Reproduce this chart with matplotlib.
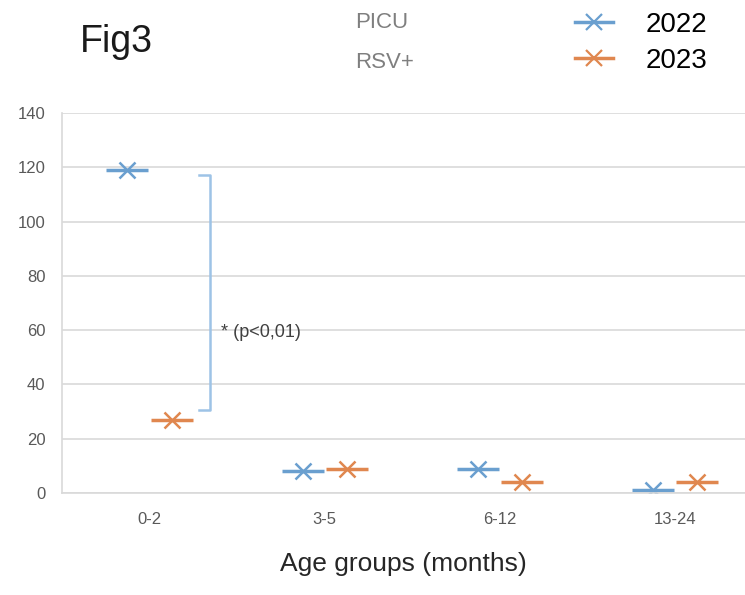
import matplotlib.pyplot as plt
from matplotlib.lines import Line2D
import numpy as np

plt.rcParams['font.family'] = ['Liberation Sans Narrow', 'Liberation Sans', 'DejaVu Sans']

# Dados
grupos = ['0-2', '3-5', '6-12', '13-24']
casos_2022 = [119, 8, 9, 1]
casos_2023 = [27, 9, 4, 4]
anos = ['2022', '2023']
cores = ['#6a9fcf', '#e0874f']

fig = plt.figure(figsize=(7.45, 5.95), dpi=100)
ax = fig.add_axes([62 / 745, 102 / 595, 683 / 745, 380 / 595])

x = np.arange(len(grupos))
desloc = 0.126
for serie, cor, d in zip([casos_2022, casos_2023], cores, [-desloc, desloc]):
    # traço horizontal + X (estilo Excel)
    ax.plot(x + d, serie, ls='none', marker='_', ms=30, mew=2.5, color=cor)
    ax.plot(x + d, serie, ls='none', marker='x', ms=11, mew=1.8, color=cor)

# Colchete de significância
bx0, bx1 = 0.283, 0.346
y_top, y_bot = 117, 30.5
ax.plot([bx0, bx1, bx1, bx0], [y_top, y_top, y_bot, y_bot], color='#9dc3e6', lw=1.8)
ax.text(0.41, 59, '* (p<0,01)', fontsize=13, color='#404040', va='center')

ax.set_xlim(-0.5, 3.4)
ax.set_ylim(0, 140)
ax.set_yticks(range(0, 141, 20))
ax.set_xticks(x)
ax.set_xticklabels(grupos)
ax.grid(axis='y', color='#d9d9d9', lw=1.2)
ax.set_axisbelow(True)
for s in ['top', 'right']:
    ax.spines[s].set_visible(False)
for s in ['left', 'bottom']:
    ax.spines[s].set_color('#d9d9d9')
    ax.spines[s].set_linewidth(1.2)
ax.tick_params(length=0, labelsize=12, colors='#595959', pad=14)
ax.tick_params(axis='y', pad=12)
ax.set_xlabel('Age groups (months)', fontsize=19, color='#262626', labelpad=18)

fig.text(80 / 745, 1 - 42 / 595, 'Fig3', fontsize=27, color='#1a1a1a', va='center')
fig.text(355 / 745, 1 - 22 / 595, 'PICU', fontsize=16, color='#7f7f7f', va='center')
fig.text(355 / 745, 1 - 62 / 595, 'RSV+', fontsize=16, color='#7f7f7f', va='center')

handles = [Line2D([0], [0], color=c, lw=2.5, marker='x', ms=11, mew=1.6)
           for c in cores]
fig.legend(handles, anos, loc='upper left', bbox_to_anchor=(550 / 745, 1.022),
           frameon=False, fontsize=20, handlelength=1.35, labelspacing=0.35,
           handletextpad=1.2)

fig.savefig('out.png', dpi=100)
